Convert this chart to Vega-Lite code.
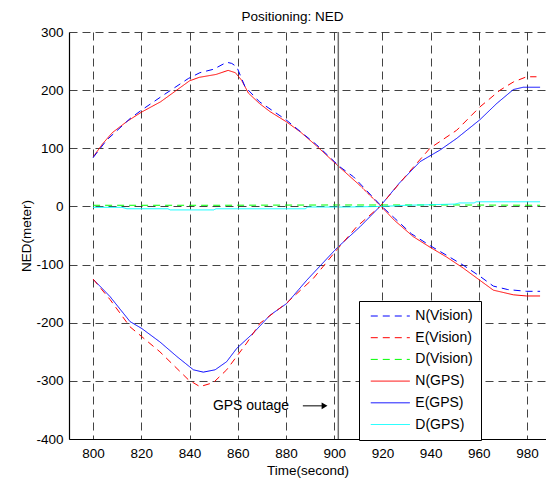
{
  "$schema": "https://vega.github.io/schema/vega-lite/v6.json",
  "width": 477,
  "height": 407,
  "autosize": {"type": "none"},
  "padding": {"left": 69, "top": 32, "right": 0, "bottom": 42},
  "background": "white",
  "config": {
    "view": {"stroke": null},
    "font": "Liberation Sans",
    "axis": {
      "labelFont": "Liberation Sans",
      "titleFont": "Liberation Sans",
      "labelFontSize": 13.5,
      "titleFontSize": 13.5,
      "titleFontWeight": "normal",
      "labelColor": "black",
      "titleColor": "black",
      "domainColor": "black",
      "domainWidth": 1.2,
      "ticks": false,
      "gridColor": "#222",
      "gridDash": [8, 5],
      "gridWidth": 1,
      "gridOpacity": 0.85,
      "labelExpr": "replace(datum.label, '\u2212', '-')"
    },
    "legend": {
      "labelFont": "Liberation Sans",
      "labelFontSize": 14,
      "labelColor": "black"
    }
  },
  "title": {
    "text": "Positioning: NED",
    "font": "Liberation Sans",
    "fontSize": 13.5,
    "fontWeight": "normal",
    "color": "black",
    "anchor": "middle",
    "dx": -15,
    "baseline": "alphabetic",
    "offset": -9
  },
  "datasets": {
    "lines": [
      {"t": 800, "v": 85, "series": "N(GPS)"},
      {"t": 804, "v": 108, "series": "N(GPS)"},
      {"t": 808, "v": 127, "series": "N(GPS)"},
      {"t": 814, "v": 146, "series": "N(GPS)"},
      {"t": 820, "v": 162, "series": "N(GPS)"},
      {"t": 828, "v": 180, "series": "N(GPS)"},
      {"t": 834, "v": 198, "series": "N(GPS)"},
      {"t": 840, "v": 216, "series": "N(GPS)"},
      {"t": 844, "v": 222, "series": "N(GPS)"},
      {"t": 851, "v": 227, "series": "N(GPS)"},
      {"t": 856, "v": 234, "series": "N(GPS)"},
      {"t": 859, "v": 230, "series": "N(GPS)"},
      {"t": 861.6, "v": 217, "series": "N(GPS)"},
      {"t": 864.4, "v": 195, "series": "N(GPS)"},
      {"t": 869, "v": 177, "series": "N(GPS)"},
      {"t": 873.4, "v": 163, "series": "N(GPS)"},
      {"t": 880, "v": 146, "series": "N(GPS)"},
      {"t": 886, "v": 128, "series": "N(GPS)"},
      {"t": 892.7, "v": 104, "series": "N(GPS)"},
      {"t": 901, "v": 72, "series": "N(GPS)"},
      {"t": 910.7, "v": 36, "series": "N(GPS)"},
      {"t": 919, "v": 2, "series": "N(GPS)"},
      {"t": 925, "v": -24, "series": "N(GPS)"},
      {"t": 932.8, "v": -52, "series": "N(GPS)"},
      {"t": 939.7, "v": -70, "series": "N(GPS)"},
      {"t": 946.6, "v": -87, "series": "N(GPS)"},
      {"t": 953.5, "v": -106, "series": "N(GPS)"},
      {"t": 960.4, "v": -127, "series": "N(GPS)"},
      {"t": 966, "v": -144, "series": "N(GPS)"},
      {"t": 974.3, "v": -152, "series": "N(GPS)"},
      {"t": 979.8, "v": -154, "series": "N(GPS)"},
      {"t": 985.4, "v": -154, "series": "N(GPS)"},

      {"t": 800, "v": 84, "series": "N(Vision)"},
      {"t": 805.6, "v": 114, "series": "N(Vision)"},
      {"t": 815.3, "v": 151, "series": "N(Vision)"},
      {"t": 820.2, "v": 166, "series": "N(Vision)"},
      {"t": 829, "v": 191, "series": "N(Vision)"},
      {"t": 839.5, "v": 220, "series": "N(Vision)"},
      {"t": 844.3, "v": 230, "series": "N(Vision)"},
      {"t": 850, "v": 236, "series": "N(Vision)"},
      {"t": 855.4, "v": 248, "series": "N(Vision)"},
      {"t": 857.5, "v": 246, "series": "N(Vision)"},
      {"t": 859.6, "v": 240, "series": "N(Vision)"},
      {"t": 863, "v": 206, "series": "N(Vision)"},
      {"t": 869, "v": 180, "series": "N(Vision)"},
      {"t": 880, "v": 149, "series": "N(Vision)"},
      {"t": 892.7, "v": 106, "series": "N(Vision)"},
      {"t": 902.4, "v": 68, "series": "N(Vision)"},
      {"t": 908, "v": 51, "series": "N(Vision)"},
      {"t": 919, "v": 3, "series": "N(Vision)"},
      {"t": 925, "v": -20, "series": "N(Vision)"},
      {"t": 932, "v": -47, "series": "N(Vision)"},
      {"t": 940, "v": -68, "series": "N(Vision)"},
      {"t": 946.6, "v": -84, "series": "N(Vision)"},
      {"t": 953.5, "v": -101, "series": "N(Vision)"},
      {"t": 960.4, "v": -120, "series": "N(Vision)"},
      {"t": 966, "v": -137, "series": "N(Vision)"},
      {"t": 972, "v": -143, "series": "N(Vision)"},
      {"t": 979.8, "v": -146, "series": "N(Vision)"},
      {"t": 985.4, "v": -146, "series": "N(Vision)"},

      {"t": 800, "v": -125, "series": "E(GPS)"},
      {"t": 807, "v": -155, "series": "E(GPS)"},
      {"t": 815.3, "v": -198, "series": "E(GPS)"},
      {"t": 820.2, "v": -210, "series": "E(GPS)"},
      {"t": 827.7, "v": -233, "series": "E(GPS)"},
      {"t": 834.7, "v": -258, "series": "E(GPS)"},
      {"t": 841.6, "v": -281, "series": "E(GPS)"},
      {"t": 845.7, "v": -285, "series": "E(GPS)"},
      {"t": 850.6, "v": -281, "series": "E(GPS)"},
      {"t": 855.4, "v": -267, "series": "E(GPS)"},
      {"t": 859.6, "v": -244, "series": "E(GPS)"},
      {"t": 866.4, "v": -218, "series": "E(GPS)"},
      {"t": 873.4, "v": -187, "series": "E(GPS)"},
      {"t": 880.3, "v": -167, "series": "E(GPS)"},
      {"t": 888.6, "v": -127, "series": "E(GPS)"},
      {"t": 901, "v": -72, "series": "E(GPS)"},
      {"t": 910.7, "v": -35, "series": "E(GPS)"},
      {"t": 919, "v": 0, "series": "E(GPS)"},
      {"t": 927, "v": 40, "series": "E(GPS)"},
      {"t": 935.6, "v": 77, "series": "E(GPS)"},
      {"t": 943.9, "v": 97, "series": "E(GPS)"},
      {"t": 950.8, "v": 117, "series": "E(GPS)"},
      {"t": 960.4, "v": 149, "series": "E(GPS)"},
      {"t": 967.4, "v": 177, "series": "E(GPS)"},
      {"t": 974.3, "v": 201, "series": "E(GPS)"},
      {"t": 978.4, "v": 205, "series": "E(GPS)"},
      {"t": 985.4, "v": 205, "series": "E(GPS)"},

      {"t": 800, "v": -125, "series": "E(Vision)"},
      {"t": 807, "v": -160, "series": "E(Vision)"},
      {"t": 815.3, "v": -207, "series": "E(Vision)"},
      {"t": 820.2, "v": -224, "series": "E(Vision)"},
      {"t": 827.7, "v": -250, "series": "E(Vision)"},
      {"t": 839.5, "v": -298, "series": "E(Vision)"},
      {"t": 844.3, "v": -310, "series": "E(Vision)"},
      {"t": 849.9, "v": -303, "series": "E(Vision)"},
      {"t": 855.4, "v": -281, "series": "E(Vision)"},
      {"t": 863.7, "v": -235, "series": "E(Vision)"},
      {"t": 869.2, "v": -201, "series": "E(Vision)"},
      {"t": 880.3, "v": -166, "series": "E(Vision)"},
      {"t": 891.3, "v": -124, "series": "E(Vision)"},
      {"t": 901, "v": -75, "series": "E(Vision)"},
      {"t": 909.3, "v": -35, "series": "E(Vision)"},
      {"t": 919, "v": 0, "series": "E(Vision)"},
      {"t": 930, "v": 54, "series": "E(Vision)"},
      {"t": 939.7, "v": 100, "series": "E(Vision)"},
      {"t": 950.8, "v": 131, "series": "E(Vision)"},
      {"t": 960.4, "v": 171, "series": "E(Vision)"},
      {"t": 968.8, "v": 200, "series": "E(Vision)"},
      {"t": 974.3, "v": 214, "series": "E(Vision)"},
      {"t": 979.8, "v": 223, "series": "E(Vision)"},
      {"t": 983.9, "v": 223, "series": "E(Vision)"},

      {"t": 800, "v": 2, "series": "D(Vision)"},
      {"t": 850, "v": 2, "series": "D(Vision)"},
      {"t": 900, "v": 2.5, "series": "D(Vision)"},
      {"t": 950, "v": 2.5, "series": "D(Vision)"},
      {"t": 985.4, "v": 2, "series": "D(Vision)"},

      {"t": 800, "v": -1.5, "series": "D(GPS)"},
      {"t": 812, "v": -1.5, "series": "D(GPS)"},
      {"t": 814, "v": -4, "series": "D(GPS)"},
      {"t": 831, "v": -4, "series": "D(GPS)"},
      {"t": 832, "v": -6, "series": "D(GPS)"},
      {"t": 850, "v": -6, "series": "D(GPS)"},
      {"t": 851, "v": -4, "series": "D(GPS)"},
      {"t": 888, "v": -4, "series": "D(GPS)"},
      {"t": 889, "v": -1, "series": "D(GPS)"},
      {"t": 905, "v": -1, "series": "D(GPS)"},
      {"t": 920, "v": 0, "series": "D(GPS)"},
      {"t": 930, "v": 2, "series": "D(GPS)"},
      {"t": 950, "v": 4, "series": "D(GPS)"},
      {"t": 952, "v": 6, "series": "D(GPS)"},
      {"t": 958, "v": 6, "series": "D(GPS)"},
      {"t": 959, "v": 8, "series": "D(GPS)"},
      {"t": 985.4, "v": 8, "series": "D(GPS)"}
    ],
    "annot": [{"t": 865.5, "v": -343, "label": "GPS outage"}],
    "arrow": [{"t1": 887, "t2": 896, "v": -343}],
    "outage": [{"t": 901.7}]
  },
  "layer": [
    {
      "mark": {"type": "rule", "color": "black", "strokeWidth": 1.2},
      "encoding": {"y": {"datum": 300, "type": "quantitative", "scale": {"domain": [-400, 300]}}}
    },
    {
      "data": {"name": "lines"},
      "mark": {"type": "line", "strokeWidth": 1, "clip": true},
      "encoding": {
        "x": {
          "field": "t", "type": "quantitative",
          "scale": {"domain": [790, 987.85], "nice": false, "zero": false},
          "axis": {"values": [800, 820, 840, 860, 880, 900, 920, 940, 960, 980], "title": "Time(second)", "labelPadding": 7, "titlePadding": 4, "grid": true}
        },
        "y": {
          "field": "v", "type": "quantitative",
          "scale": {"domain": [-400, 300], "nice": false, "zero": false},
          "axis": {"values": [-400, -300, -200, -100, 0, 100, 200, 300], "title": "NED(meter)", "labelPadding": 6, "titlePadding": 2, "grid": true}
        },
        "color": {
          "field": "series", "type": "nominal",
          "scale": {
            "domain": ["N(Vision)", "E(Vision)", "D(Vision)", "N(GPS)", "E(GPS)", "D(GPS)"],
            "range": ["#0000ff", "#ff0000", "#00ff00", "#ff0000", "#0000ff", "#00ffff"]
          },
          "legend": {
            "title": null,
            "orient": "none",
            "legendX": 290,
            "legendY": 269,
            "direction": "vertical",
            "columns": 1,
            "fillColor": "white",
            "strokeColor": "black",
            "padding": 8,
            "rowPadding": 7.7,
            "symbolType": "M-5,0H5",
            "symbolSize": 61,
            "symbolStrokeWidth": 1,
            "symbolOffset": 16.3,
            "labelOffset": 18
          }
        },
        "strokeDash": {
          "field": "series", "type": "nominal",
          "scale": {
            "domain": ["N(Vision)", "E(Vision)", "D(Vision)", "N(GPS)", "E(GPS)", "D(GPS)"],
            "range": [[7, 5], [7, 5], [7, 5], [1, 0], [1, 0], [1, 0]]
          },
          "legend": {
            "title": null,
            "orient": "none",
            "legendX": 290,
            "legendY": 269,
            "direction": "vertical",
            "columns": 1,
            "fillColor": "white",
            "strokeColor": "black",
            "padding": 8,
            "rowPadding": 7.7,
            "symbolType": "M-5,0H5",
            "symbolSize": 61,
            "symbolStrokeWidth": 1,
            "symbolOffset": 16.3,
            "labelOffset": 18
          }
        },
        "detail": {"field": "series"}
      }
    },
    {
      "data": {"name": "outage"},
      "mark": {"type": "rule", "color": "#707070", "strokeWidth": 1.5},
      "encoding": {"x": {"field": "t", "type": "quantitative"}}
    },
    {
      "data": {"name": "annot"},
      "mark": {"type": "text", "font": "Liberation Sans", "fontSize": 14, "color": "black"},
      "encoding": {
        "x": {"field": "t", "type": "quantitative"},
        "y": {"field": "v", "type": "quantitative"},
        "text": {"field": "label"}
      }
    },
    {
      "data": {"name": "arrow"},
      "mark": {"type": "rule", "color": "black", "strokeWidth": 1},
      "encoding": {
        "x": {"field": "t1", "type": "quantitative"},
        "x2": {"field": "t2"},
        "y": {"field": "v", "type": "quantitative"}
      }
    },
    {
      "data": {"name": "arrow"},
      "mark": {"type": "point", "shape": "triangle-right", "filled": true, "color": "black", "size": 45, "opacity": 1},
      "encoding": {
        "x": {"field": "t2", "type": "quantitative"},
        "y": {"field": "v", "type": "quantitative"}
      }
    }
  ]
}
